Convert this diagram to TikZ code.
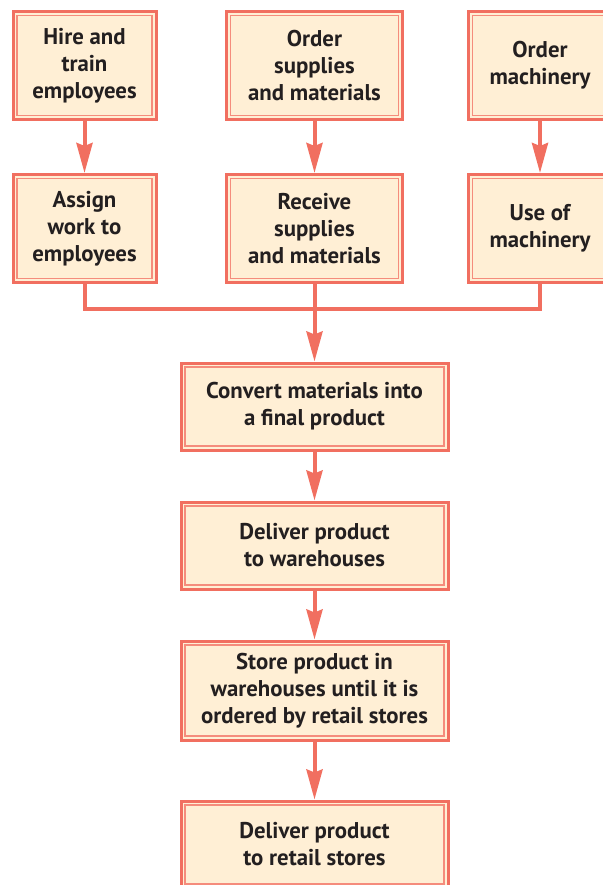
\documentclass[tikz,border=0pt]{standalone}
\usepackage{fontspec}
\setmainfont{PT Sans}
\usetikzlibrary{positioning, arrows.meta, calc}

\definecolor{coral}{RGB}{241,111,96}
\definecolor{coralL}{RGB}{245,140,124}
\definecolor{cream}{RGB}{255,239,213}
\definecolor{ink}{RGB}{35,31,32}

\begin{document}
\begin{tikzpicture}[
    x=1pt, y=-1pt,
    font=\fontsize{22.8}{27}\selectfont\bfseries,
    stepbox/.style={draw=coral, fill=cream, text=ink, line width=3pt, align=center,
                    inner sep=0pt, minimum width=143pt, minimum height=108pt,
                    path picture={\draw[coralL, line width=1.3pt]
                        ([shift={(4pt,4pt)}]path picture bounding box.south west) rectangle
                        ([shift={(-4pt,-4pt)}]path picture bounding box.north east);}},
    widebox/.style={stepbox, minimum width=267pt, minimum height=87pt},
    flow/.style={-{Stealth[length=30pt, width=16pt, inset=3pt]}, line width=4pt, draw=coral},
    link/.style={line width=4pt, draw=coral}
]
\useasboundingbox (0,0) rectangle (602,885);
% supply side
\node[stepbox] (hire) at (84.5,65.5) {Hire and\\train\\employees};
\node[stepbox, minimum width=176pt] (order) at (314.5,65.5) {Order\\supplies\\and materials};
\node[stepbox] (ordmach) at (540,65.5) {Order\\machinery};
\node[stepbox, below=52pt of hire] (assign) {Assign\\work to\\employees};
\node[stepbox, minimum width=176pt, below=52pt of order] (receive) {Receive\\supplies\\and materials};
\node[stepbox, below=52pt of ordmach] (usemach) {Use of\\machinery};
% production chain
\node[widebox] (convert) at (314.5,406.5) {Convert materials into\\a final product};
\node[widebox, below=49pt of convert] (deliver) {Deliver product\\to warehouses};
\node[widebox, minimum height=99pt, below=49pt of deliver] (store) {Store product in\\warehouses until it is\\ordered by retail stores};
\node[widebox, below=58pt of store] (retail) {Deliver product\\to retail stores};
\foreach \a/\b in {hire/assign, order/receive, ordmach/usemach}{\draw[flow] (\a)--(\b);}
\coordinate (junc) at (314.5,309);
\draw[link] (assign.south) |- (junc) -| (usemach.south);
\draw[flow] (receive.south) -- (convert.north);
\foreach \a/\b in {convert/deliver, deliver/store, store/retail}{\draw[flow] (\a)--(\b);}
\end{tikzpicture}
\end{document}
